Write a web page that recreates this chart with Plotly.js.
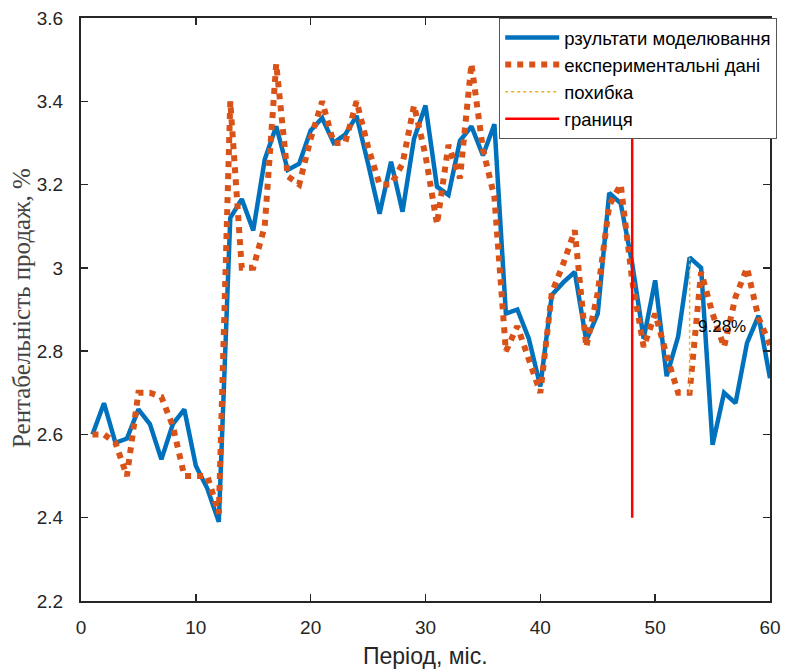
<!DOCTYPE html>
<html>
<head>
<meta charset="utf-8">
<script src="https://cdn.plot.ly/plotly-3.0.1.min.js"></script>
<style>html,body{margin:0;padding:0;background:#fff;}</style>
</head>
<body>
<div id="chart" style="width:795px;height:672px;"></div>
<script>
var period = [];
for (var i = 1; i <= 60; i++) period.push(i);

var model = [2.60, 2.675, 2.58, 2.59, 2.66, 2.625, 2.54, 2.625, 2.66, 2.525,
             2.47, 2.39, 3.12, 3.165, 3.09, 3.26, 3.34, 3.235, 3.25, 3.33,
             3.36, 3.30, 3.32, 3.365, 3.25, 3.13, 3.255, 3.135, 3.31, 3.39,
             3.195, 3.175, 3.305, 3.34, 3.27, 3.345, 2.89, 2.90, 2.83, 2.715,
             2.935, 2.965, 2.99, 2.825, 2.89, 3.18, 3.155, 3.01, 2.83, 2.97,
             2.74, 2.835, 3.025, 3.0, 2.575, 2.70, 2.675, 2.82, 2.885, 2.735];

var experiment = [2.60, 2.60, 2.58, 2.50, 2.70, 2.70, 2.69, 2.62, 2.50, 2.50,
                  2.50, 2.41, 3.40, 3.00, 3.00, 3.10, 3.49, 3.22, 3.20, 3.31,
                  3.40, 3.30, 3.30, 3.40, 3.29, 3.20, 3.20, 3.25, 3.39, 3.27,
                  3.105, 3.295, 3.215, 3.49, 3.285, 3.17, 2.80, 2.86, 2.78, 2.70,
                  2.94, 3.01, 3.09, 2.81, 2.94, 3.15, 3.20, 2.97, 2.81, 2.89,
                  2.79, 2.70, 2.70, 2.99, 2.89, 2.81, 2.93, 3.00, 2.88, 2.815];

var errorX = [53, 53];
var errorY = [2.70, 3.025];
var errorLabel = "9.28%";
var errorLabelPos = [55.8, 2.86];

var boundaryX = [48, 48];
var boundaryY = [2.4, 3.6];

var names = ["рзультати моделювання", "експериментальні дані", "похибка", "границя"];
var yTicks = [2.2, 2.4, 2.6, 2.8, 3.0, 3.2, 3.4, 3.6];
var yTickText = ["2.2", "2.4", "2.6", "2.8", "3", "3.2", "3.4", "3.6"];
var xTicks = [0, 10, 20, 30, 40, 50, 60];

var axisColor = "#262626";
var sans = "Liberation Sans, Arial, sans-serif";
var serif = "Liberation Serif, Times New Roman, serif";

var traces = [
  {x: period, y: model, name: names[0], type: "scatter", mode: "lines",
   line: {color: "#0072BD", width: 4.5}},
  {x: period, y: experiment, name: names[1], type: "scatter", mode: "lines",
   line: {color: "#D95319", width: 6, dash: "dot"}},
  {x: errorX, y: errorY, name: names[2], type: "scatter", mode: "lines",
   line: {color: "#EDB120", width: 1.5, dash: "dot"}},
  {x: boundaryX, y: boundaryY, name: names[3], type: "scatter", mode: "lines",
   line: {color: "#FF0000", width: 2.5}}
];

var layout = {
  width: 795, height: 672,
  margin: {l: 81, r: 25, t: 18, b: 71},
  paper_bgcolor: "#fff", plot_bgcolor: "#fff",
  showlegend: true,
  legend: {x: 0.607, y: 1, xanchor: "left", yanchor: "top",
           bgcolor: "#fff", bordercolor: "#555", borderwidth: 1,
           font: {family: sans, size: 18.5, color: "#000"},
           itemwidth: 54, tracegroupgap: 0},
  xaxis: {range: [0, 60], tickvals: xTicks, ticks: "inside", ticklen: 7, tickwidth: 1.5,
          tickcolor: axisColor, showline: true, linecolor: axisColor, linewidth: 2,
          mirror: "ticks", showgrid: false, zeroline: false,
          ticklabelstandoff: 8,
          tickfont: {family: sans, size: 19, color: axisColor}},
  yaxis: {range: [2.2, 3.6], tickvals: yTicks, ticktext: yTickText, ticks: "inside", ticklen: 7, tickwidth: 1.5,
          tickcolor: axisColor, showline: true, linecolor: axisColor, linewidth: 2,
          mirror: "ticks", showgrid: false, zeroline: false,
          ticklabelstandoff: 12,
          tickfont: {family: sans, size: 19, color: axisColor}},
  annotations: [
    {x: errorLabelPos[0], y: errorLabelPos[1], xref: "x", yref: "y", text: errorLabel,
     showarrow: false, font: {family: sans, size: 17, color: "#000"}},
    {x: 0.5, y: -0.094, xref: "paper", yref: "paper", text: "Період, міс.",
     showarrow: false, xanchor: "center", yanchor: "middle",
     font: {family: sans, size: 23, color: axisColor}},
    {x: -0.0856, y: 0.5026, xref: "paper", yref: "paper", text: "Рентабельність продаж, %",
     showarrow: false, textangle: -90, xanchor: "center", yanchor: "middle",
     font: {family: serif, size: 25, color: "#444"}}
  ]
};

Plotly.newPlot("chart", traces, layout, {displayModeBar: false, staticPlot: true});
</script>
</body>
</html>
